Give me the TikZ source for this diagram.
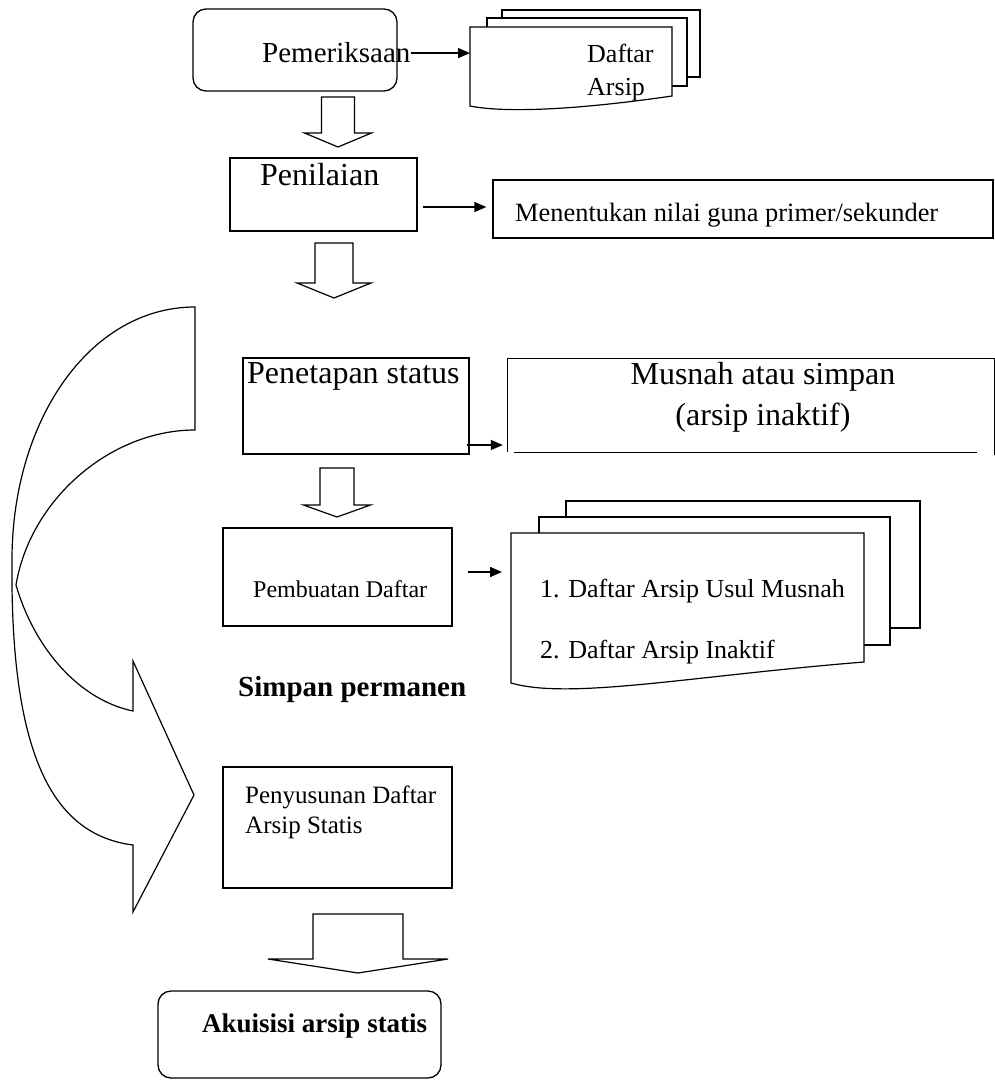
\documentclass[tikz,border=0pt]{standalone}
\usepackage{fontspec}
\setmainfont{Liberation Serif}
\usetikzlibrary{arrows.meta}

\newcommand{\sz}[1]{\fontsize{#1}{#1}\selectfont}
% hollow block arrow pointing down: x, top, shaft half width, head base, head half width, tip
\newcommand{\hollowdown}[6]{%
  \draw[blockline] ({#1-#3},#2) -- ({#1-#3},#4) -- ({#1-#5},#4) -- (#1,#6)
    -- ({#1+#5},#4) -- ({#1+#3},#4) -- ({#1+#3},#2) -- cycle;}

\tikzset{
  box/.style={draw, line width=1.3pt, inner sep=0pt},
  roundbox/.style={box, rounded corners=13pt},
  conn/.style={-{Triangle[length=12pt,width=10pt]}, line width=1.5pt},
  blockline/.style={draw, line width=1.2pt, fill=white, line join=miter},
  txt/.style={inner sep=0pt, anchor=base west},
}

\begin{document}
\begin{tikzpicture}[x=1pt,y=-1pt]
  \useasboundingbox (0,0) rectangle (995,1081);

  % boxes of the main column
  \node[roundbox, minimum width=204pt, minimum height=82pt] (pem) at (295,50) {};
  \node[box, minimum width=187pt, minimum height=73pt] (pen) at (323.5,194.5) {};
  \node[box, minimum width=500pt, minimum height=58pt] (men) at (743,209) {};
  \node[box, minimum width=226pt, minimum height=96pt] (pet) at (356,406) {};
  \node[inner sep=0pt, minimum width=486pt, minimum height=93pt] (mus) at (751,405.5) {};
  \draw[line width=1.3pt] (mus.south west) -- (mus.north west) -- (mus.north east) -- ([yshift=-3pt]mus.south east);
  \draw[line width=1.3pt] ([xshift=6pt]mus.south west) -- ([xshift=-17pt]mus.south east);
  \node[box, minimum width=229pt, minimum height=98pt] (pemb) at (337.5,577) {};
  \node[box, minimum width=229pt, minimum height=121pt] (pys) at (337.5,827.5) {};
  \node[roundbox, minimum width=283pt, minimum height=87pt] (aku) at (299.5,1034.5) {};

  % first stack of pages
  \draw[blockline] (502,10) rectangle (700,77);
  \draw[blockline] (487,18) rectangle (687,86);
  \draw[blockline] (470,27) -- (672,27) -- (672,96)
    .. controls (590,108) and (510,114) .. (470,106) -- cycle;
  \coordinate (arsip1) at (470,53);

  % second stack of pages
  \draw[blockline] (566,501) rectangle (920,628);
  \draw[blockline] (539,517) rectangle (890,645);
  \draw[blockline] (511,533) -- (864,533) -- (864,662)
    .. controls (690,676) and (570,700) .. (511,683) -- cycle;
  \coordinate (arsip2) at (511,572);

  % texts
  \node[txt, font=\sz{29}] (pemtext) at (262,63) {Pemeriksaan};
  \node[txt, font=\sz{26}] (daftar1) at (587,63) {Daftar};
  \node[txt, font=\sz{26}] (daftar2) at (587,95) {Arsip};
  \node[txt, font=\sz{32}] (pentext) at (260,185) {Penilaian};
  \node[txt, font=\sz{26.4}] (mentext) at (515,221) {Menentukan nilai guna primer/sekunder};
  \node[txt, font=\sz{32}] (pettext) at (247,383) {Penetapan status};
  \node[inner sep=0pt, anchor=base, font=\sz{32}] (mustext1) at (763,384) {Musnah atau simpan};
  \node[inner sep=0pt, anchor=base, font=\sz{32}] (mustext2) at (763,425) {(arsip inaktif)};
  \node[txt, font=\sz{24}] (pembtext) at (253,597) {Pembuatan Daftar};
  \node[txt, font=\sz{26}] (list1) at (540,597) {1. Daftar Arsip Usul Musnah};
  \node[txt, font=\sz{26}] (list2) at (540,658) {2. Daftar Arsip Inaktif};
  \node[txt, font=\bfseries\sz{29}] (permanen) at (238,696) {Simpan permanen};
  \node[txt, font=\sz{25}] (pystext1) at (245,803) {Penyusunan Daftar};
  \node[txt, font=\sz{25}] (pystext2) at (245,833) {Arsip Statis};
  \node[txt, font=\bfseries\sz{27}] (akutext) at (202,1032) {Akuisisi arsip statis};

  % small arrows to the side
  \draw[conn] (pemtext.east) -- (pemtext.east -| arsip1);
  \draw[conn] ([xshift=5pt,yshift=-12.5pt]pen.east) -- ([xshift=-6pt,yshift=2pt]men.west);
  \draw[conn] ([xshift=-3pt,yshift=-39pt]pet.east) -- ([xshift=-5pt,yshift=-39.5pt]mus.west);
  \draw[conn] ([xshift=15pt,yshift=5pt]pemb.east) -- ([xshift=-9pt]arsip2);

  % hollow arrows down the column
  \hollowdown{338}{97}{16.5}{133}{33.5}{147}
  \hollowdown{334}{243}{19}{283}{37}{298}
  \hollowdown{337}{468}{17}{505}{33.5}{517}
  \hollowdown{358}{914}{45}{959}{90}{973}

  % big curved arrow on the left
  \draw[blockline] (195,307) -- (195,430)
    .. controls (110,430) and (30,500) .. (16,585)
    .. controls (35,650) and (80,700) .. (133,711)
    -- (133,661) -- (194,795) -- (133,912) -- (133,845)
    .. controls (55,835) and (10,760) .. (12,560)
    .. controls (12,420) and (90,307) .. (195,307) -- cycle;
\end{tikzpicture}
\end{document}
